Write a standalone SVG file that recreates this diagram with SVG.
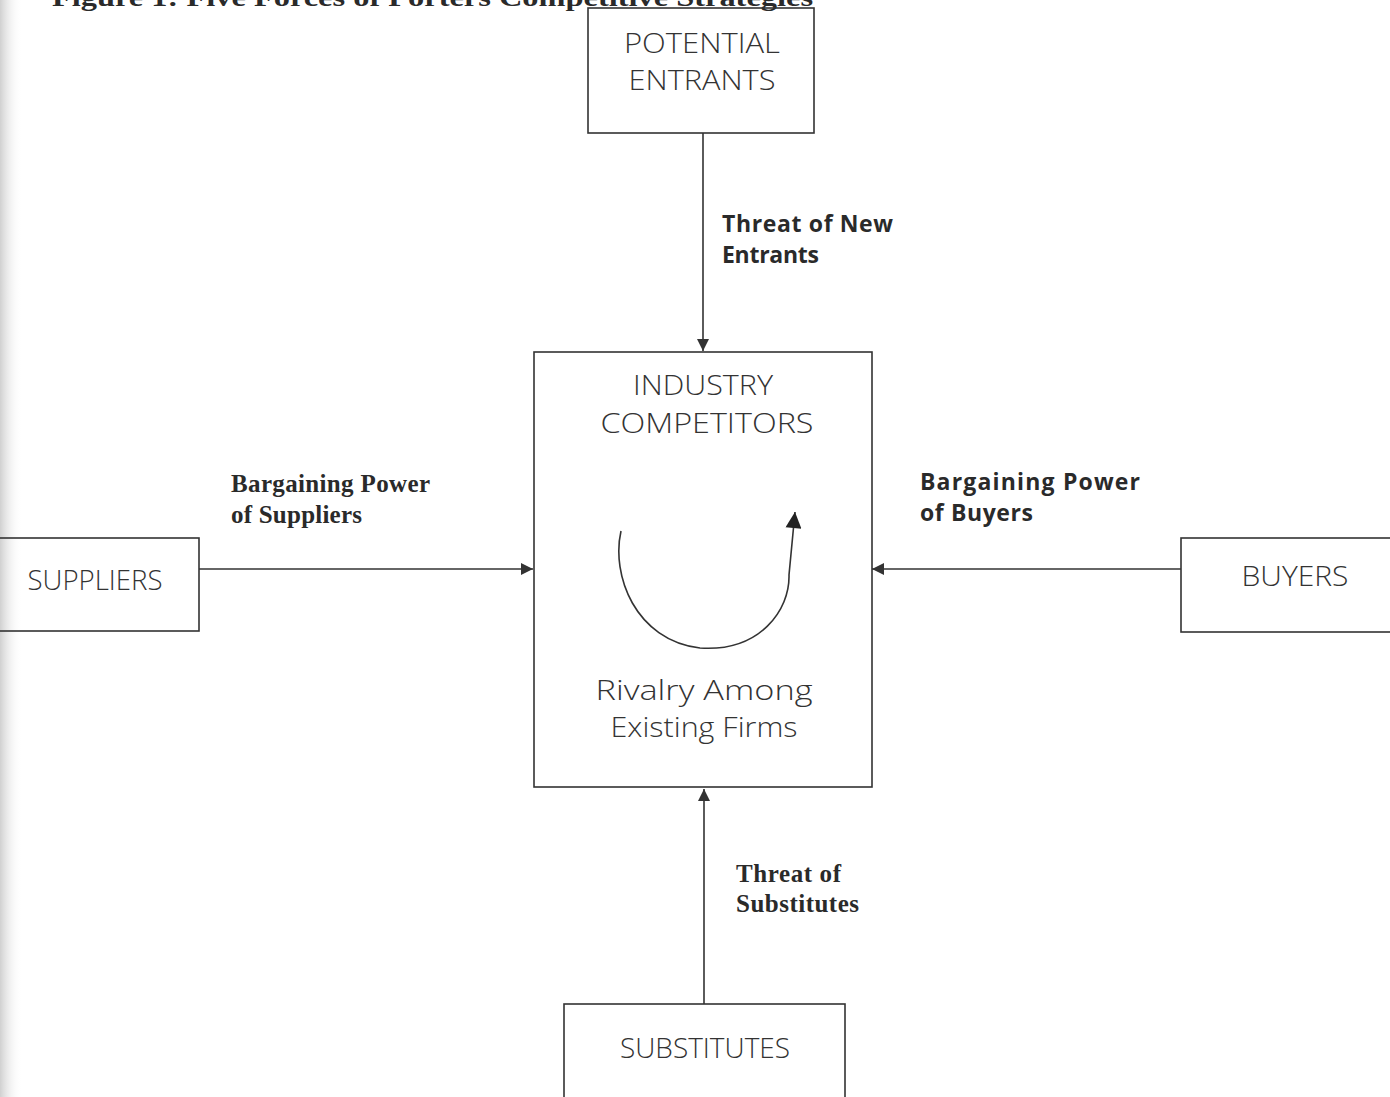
<svg xmlns="http://www.w3.org/2000/svg" width="1390" height="1097" viewBox="0 0 1390 1097">
<defs>
<style>
.box{fill:none;stroke:#333;stroke-width:1.6}
.lbl{font-family:"Open Sans","DejaVu Sans",sans-serif;font-weight:300;font-size:28px;fill:#333;text-anchor:middle}
.bs{font-family:"Open Sans","DejaVu Sans",sans-serif;font-weight:700;font-size:23px;fill:#2a2a2a}
.bt{font-family:"Liberation Serif","Times New Roman",serif;font-weight:700;font-size:25px;fill:#2a2a2a}
.ln{fill:none;stroke:#333;stroke-width:1.6}
</style>
<marker id="ah" markerWidth="14" markerHeight="12" refX="10" refY="5" orient="auto" markerUnits="userSpaceOnUse" viewBox="0 0 10 10">
<path d="M0,0 L10,5 L0,10 z" fill="#333"/>
</marker>
<marker id="ah2" markerWidth="18" markerHeight="16" refX="10" refY="5" orient="auto" markerUnits="userSpaceOnUse" viewBox="0 0 10 10">
<path d="M0,0 L10,5 L0,10 z" fill="#222"/>
</marker>
<linearGradient id="edge" x1="0" y1="0" x2="1" y2="0">
<stop offset="0" stop-color="#d0d0d0"/>
<stop offset="1" stop-color="#ffffff" stop-opacity="0"/>
</linearGradient>
</defs>
<rect width="1390" height="1097" fill="#fff"/>
<rect x="0" y="0" width="22" height="1097" fill="url(#edge)"/>
<text x="52" y="6" class="bt" font-size="27" textLength="761" lengthAdjust="spacingAndGlyphs">Figure 1: Five Forces of Porters Competitive Strategies</text>

<g id="connectors">
<line class="ln" x1="703" y1="133" x2="703" y2="351" marker-end="url(#ah)"/>
<line class="ln" x1="199" y1="569" x2="533" y2="569" marker-end="url(#ah)"/>
<line class="ln" x1="1181" y1="569" x2="872" y2="569" marker-end="url(#ah)"/>
<line class="ln" x1="704" y1="1004" x2="704" y2="789" marker-end="url(#ah)"/>
<text class="bs" x="722" y="232" textLength="171">Threat of New</text>
<text class="bs" x="722" y="263" textLength="97">Entrants</text>
<text class="bt" x="231" y="492" textLength="199">Bargaining Power</text>
<text class="bt" x="231" y="523" textLength="131">of Suppliers</text>
<text class="bs" x="920" y="490" textLength="220">Bargaining Power</text>
<text class="bs" x="920" y="521" textLength="113">of Buyers</text>
<text class="bt" x="736" y="882" textLength="105">Threat of</text>
<text class="bt" x="736" y="912" textLength="123">Substitutes</text>
</g>

<g id="potential-entrants">
<rect class="box" x="588" y="8" width="226" height="125"/>
<text class="lbl" x="702" y="53" textLength="156" lengthAdjust="spacingAndGlyphs">POTENTIAL</text>
<text class="lbl" x="702" y="90" textLength="147" lengthAdjust="spacingAndGlyphs">ENTRANTS</text>
</g>

<g id="industry-competitors">
<rect class="box" x="534" y="352" width="338" height="435"/>
<text class="lbl" x="703" y="395" textLength="140" lengthAdjust="spacingAndGlyphs">INDUSTRY</text>
<text class="lbl" x="707" y="433" textLength="213" lengthAdjust="spacingAndGlyphs">COMPETITORS</text>
<path class="ln" d="M621,531 C611,575 635,640 700,648 C760,652 790,610 789,575 L795,512" marker-end="url(#ah2)"/>
<text class="lbl" x="704" y="700" textLength="217" lengthAdjust="spacingAndGlyphs">Rivalry Among</text>
<text class="lbl" x="704" y="737" textLength="187" lengthAdjust="spacingAndGlyphs">Existing Firms</text>
</g>

<g id="suppliers">
<rect class="box" x="-2" y="538" width="201" height="93"/>
<text class="lbl" x="95" y="590" textLength="135" lengthAdjust="spacingAndGlyphs">SUPPLIERS</text>
</g>

<g id="buyers">
<rect class="box" x="1181" y="538" width="212" height="94"/>
<text class="lbl" x="1295" y="586" textLength="107" lengthAdjust="spacingAndGlyphs">BUYERS</text>
</g>

<g id="substitutes">
<rect class="box" x="564" y="1004" width="281" height="100"/>
<text class="lbl" x="705" y="1058" textLength="170" lengthAdjust="spacingAndGlyphs">SUBSTITUTES</text>
</g>
</svg>
